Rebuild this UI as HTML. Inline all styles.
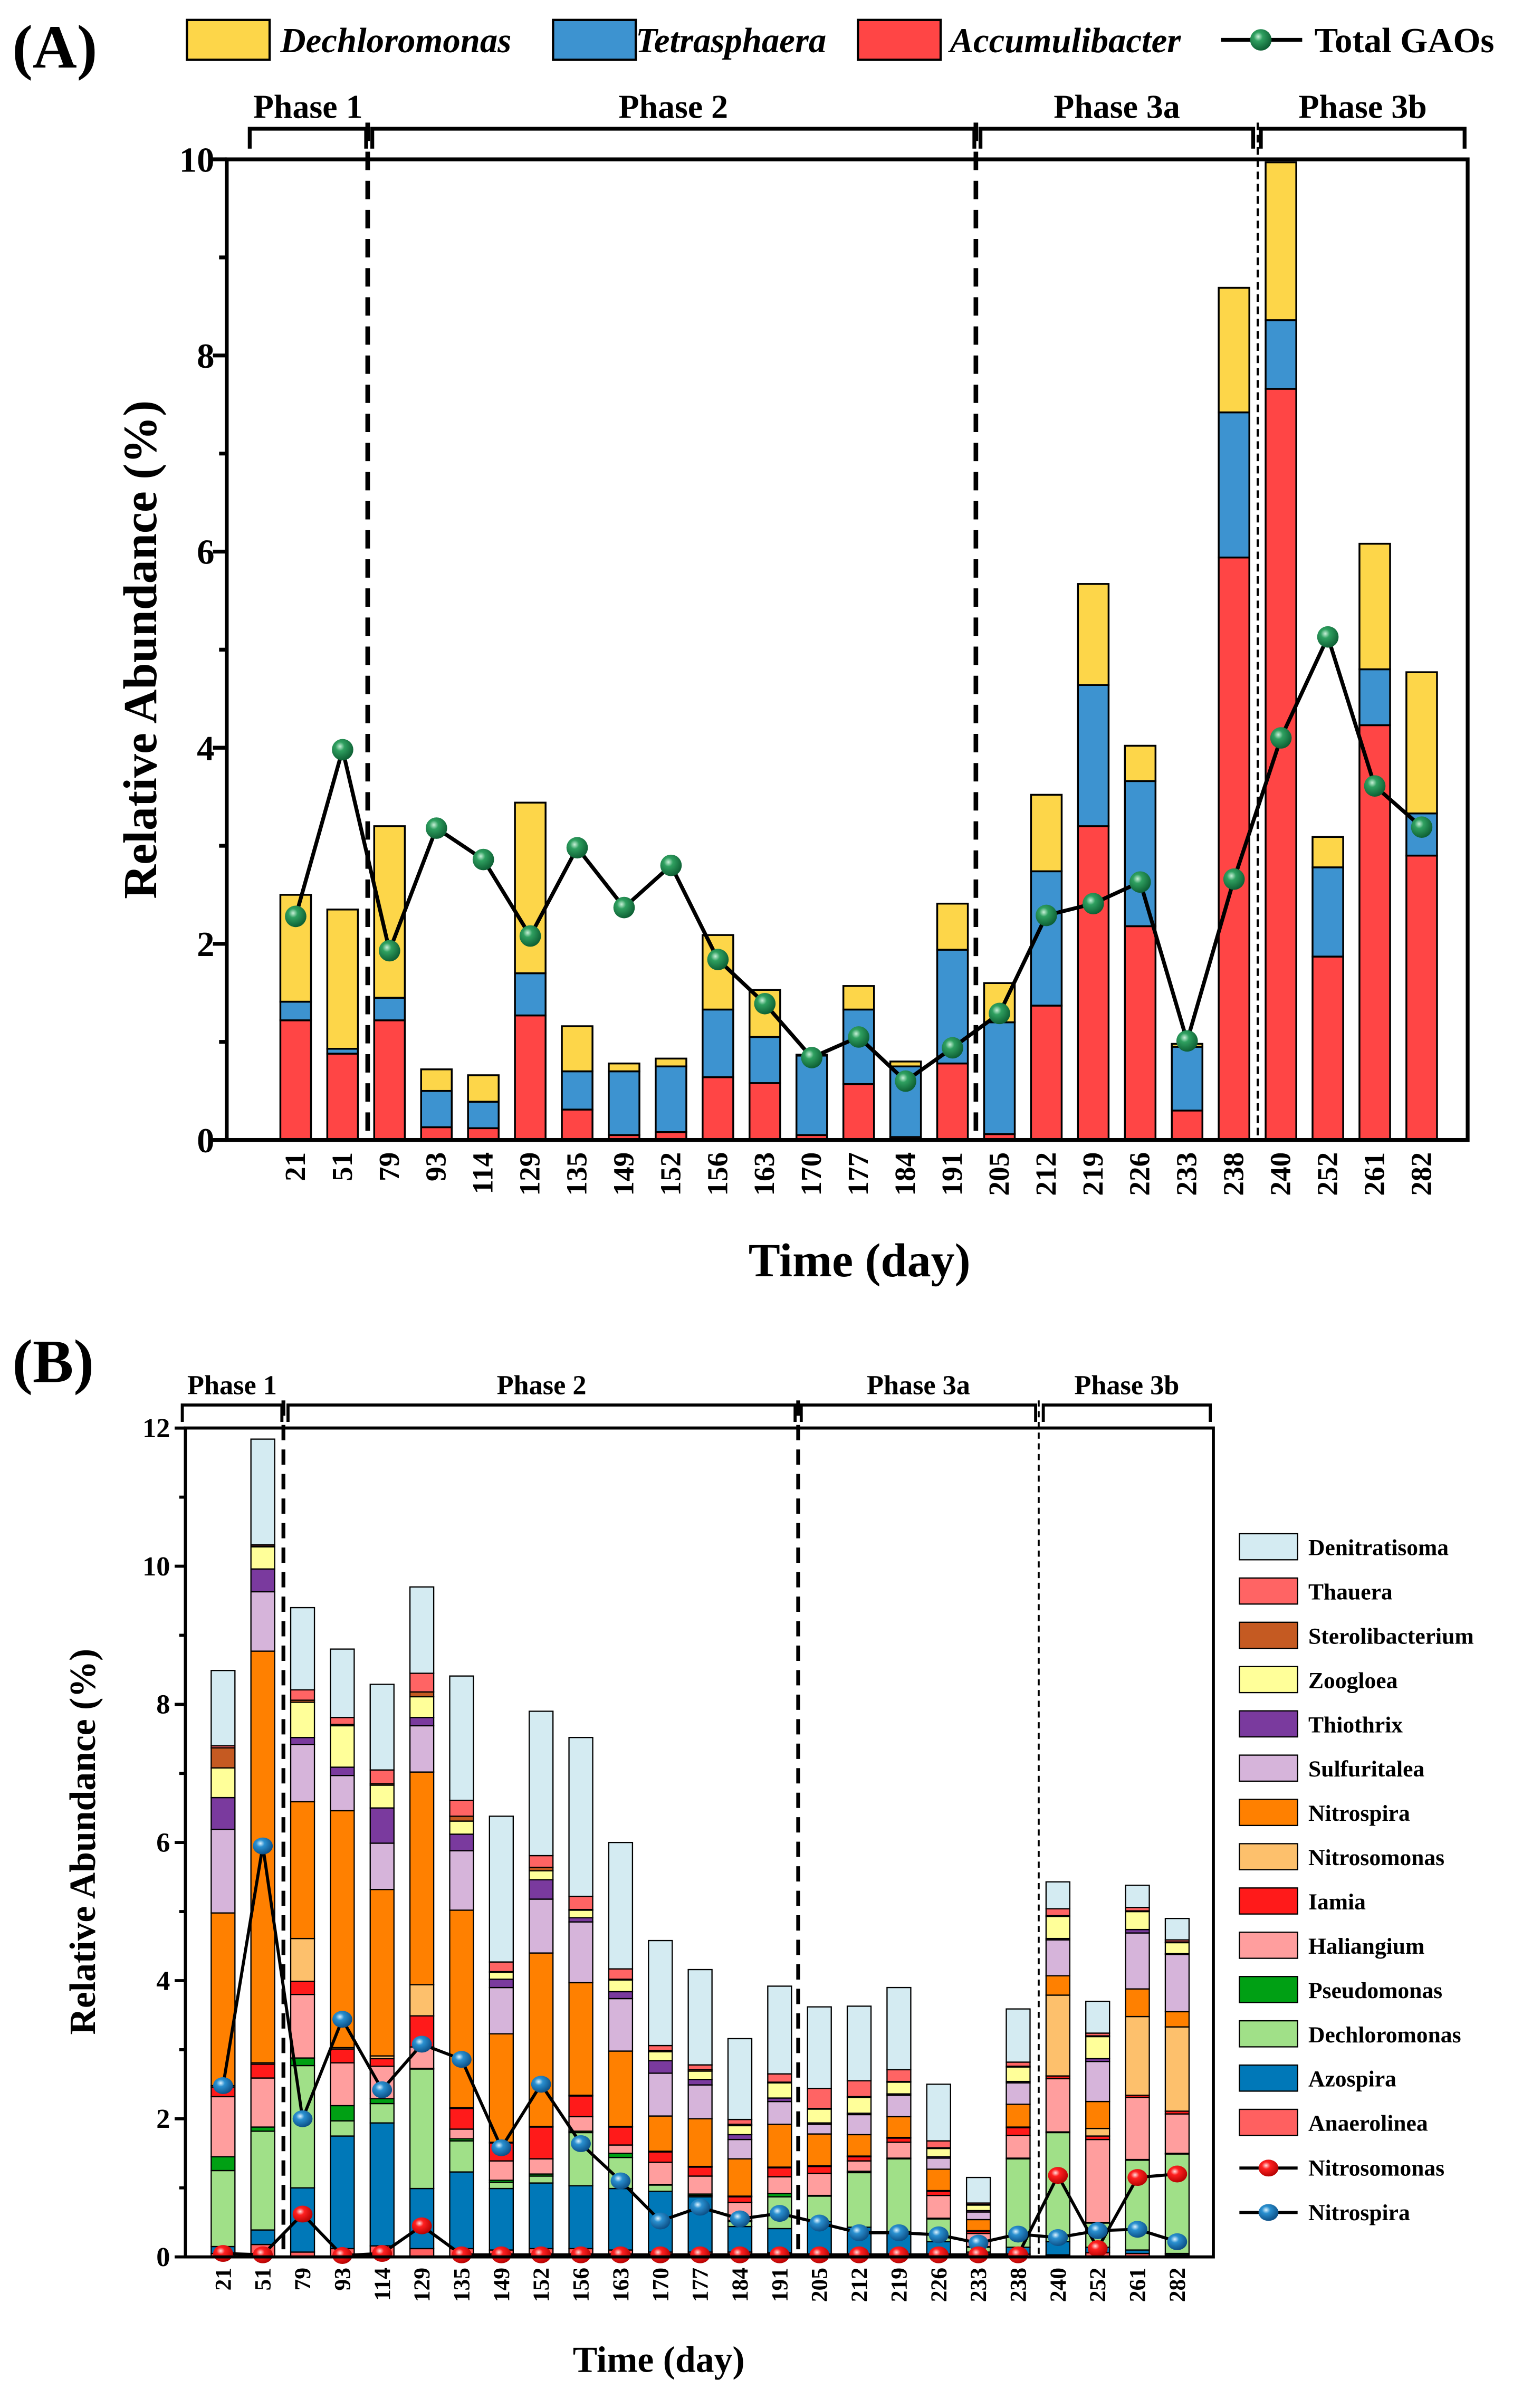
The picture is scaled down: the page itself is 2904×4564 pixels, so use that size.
<!DOCTYPE html>
<html><head><meta charset="utf-8"><style>
html,body{margin:0;padding:0;background:#fff;}
svg{display:block;font-family:"Liberation Serif",serif;font-weight:bold;}
</style></head><body>
<svg id="fig" xmlns="http://www.w3.org/2000/svg" width="2904" height="4564" viewBox="0 0 1000 1571.6">
<defs>
<radialGradient id="gG" cx="0.38" cy="0.35" r="0.7"><stop offset="0" stop-color="#c8f0d8"/><stop offset="0.3" stop-color="#2fa060"/><stop offset="1" stop-color="#0b5a30"/></radialGradient>
<radialGradient id="gR" cx="0.38" cy="0.35" r="0.7"><stop offset="0" stop-color="#ffe0e0"/><stop offset="0.3" stop-color="#ff2020"/><stop offset="1" stop-color="#b00000"/></radialGradient>
<radialGradient id="gB" cx="0.38" cy="0.35" r="0.7"><stop offset="0" stop-color="#e0f4ff"/><stop offset="0.3" stop-color="#2a90d0"/><stop offset="1" stop-color="#0a4a80"/></radialGradient>
</defs>
<rect width="1000" height="1571.6" fill="#fff"/>
<g id="A"></g>
<g id="B"></g>
</svg>
<script>
// ---------- Panel A data ----------
const daysA = [21,51,79,93,114,129,135,149,152,156,163,170,177,184,191,205,212,219,226,233,238,240,252,261,282];
const accumulibacter = [1.22,0.88,1.22,0.13,0.12,1.27,0.31,0.05,0.08,0.64,0.58,0.05,0.57,0.03,0.78,0.06,1.37,3.2,2.18,0.3,5.94,7.66,1.87,4.23,2.9];
const tetrasphaera = [0.19,0.05,0.23,0.37,0.27,0.43,0.39,0.65,0.67,0.69,0.47,0.81,0.76,0.72,1.16,1.14,1.37,1.44,1.48,0.65,1.48,0.7,0.91,0.57,0.43];
const dechloromonasA = [1.09,1.42,1.75,0.22,0.27,1.74,0.46,0.08,0.08,0.76,0.48,0.01,0.24,0.05,0.47,0.4,0.78,1.03,0.36,0.03,1.27,1.61,0.31,1.28,1.44];
const totalGAOs = [2.28,3.98,1.93,3.18,2.86,2.08,2.98,2.37,2.8,1.84,1.39,0.84,1.05,0.6,0.94,1.29,2.29,2.41,2.63,1.01,2.66,4.1,5.13,3.61,3.19];
const ticksA = [0,2,4,6,8,10];

// ---------- Panel B data ----------
const daysB = [21,51,79,93,114,129,135,149,152,156,163,170,177,184,191,205,212,219,226,233,238,240,252,261,282];
const genera = ["Anaerolinea","Azospira","Dechloromonas","Pseudomonas","Haliangium","Iamia","Nitrosomonas","Nitrospira","Sulfuritalea","Thiothrix","Zoogloea","Sterolibacterium","Thauera","Denitratisoma"];
const anaerolinea = [0.05,0.18,0.07,0.12,0.16,0.12,0.12,0.1,0.12,0.12,0.1,0.07,0.07,0.07,0.06,0.04,0.04,0.04,0.04,0.03,0.04,0.03,0.06,0.05,0.03];
const azospira = [0.1,0.21,0.93,1.63,1.78,0.87,1.11,0.89,0.95,0.91,0.89,0.88,0.8,0.37,0.35,0.47,0.39,0.33,0.18,0.04,0.1,0.19,0.08,0.05,0.02];
const dechloromonasB = [1.1,1.43,1.77,0.22,0.28,1.73,0.45,0.09,0.1,0.77,0.45,0.09,0.02,0.07,0.46,0.37,0.79,1.05,0.33,0.07,1.28,1.58,0.35,1.3,1.44];
const pseudomonas = [0.2,0.06,0.11,0.22,0.07,0.01,0.03,0.03,0.03,0.02,0.06,0.01,0.02,0.02,0.05,0.01,0.02,0.01,0.01,0.01,0.01,0.01,0.01,0.01,0.01];
const haliangium = [0.87,0.71,0.92,0.62,0.47,0.31,0.14,0.28,0.22,0.21,0.12,0.32,0.26,0.26,0.24,0.32,0.15,0.23,0.33,0.19,0.33,0.77,1.2,0.9,0.57];
const iamia = [0.14,0.2,0.19,0.2,0.11,0.45,0.3,0.26,0.46,0.3,0.26,0.15,0.13,0.08,0.13,0.1,0.06,0.06,0.06,0.03,0.11,0.04,0.05,0.03,0.04];
const nitrosomonasBar = [0.02,0.02,0.62,0.02,0.04,0.45,0.01,0.01,0.01,0.01,0.01,0.01,0.01,0.01,0.01,0.01,0.01,0.01,0.01,0.01,0.01,1.17,0.11,1.14,1.22];
const nitrospiraBar = [2.5,5.96,1.98,3.43,2.41,3.08,2.86,1.57,2.51,1.63,1.09,0.51,0.69,0.54,0.62,0.46,0.31,0.3,0.31,0.16,0.33,0.28,0.39,0.4,0.22];
const sulfuritalea = [1.21,0.86,0.83,0.51,0.67,0.67,0.86,0.67,0.78,0.88,0.76,0.62,0.49,0.28,0.33,0.14,0.29,0.31,0.16,0.11,0.31,0.52,0.58,0.81,0.83];
const thiothrix = [0.46,0.33,0.1,0.12,0.51,0.12,0.24,0.12,0.28,0.06,0.1,0.18,0.08,0.07,0.05,0.02,0.02,0.02,0.02,0.02,0.02,0.02,0.04,0.05,0.01];
const zoogloea = [0.43,0.32,0.51,0.6,0.33,0.3,0.19,0.1,0.13,0.11,0.17,0.13,0.12,0.13,0.22,0.2,0.23,0.17,0.12,0.08,0.21,0.32,0.32,0.26,0.16];
const sterolibacterium = [0.29,0.01,0.03,0.02,0.02,0.07,0.07,0.01,0.05,0.01,0.01,0.02,0.02,0.02,0.01,0.01,0.01,0.01,0.01,0.01,0.01,0.01,0.01,0.01,0.01];
const thauera = [0.03,0.02,0.15,0.1,0.2,0.27,0.23,0.14,0.17,0.19,0.15,0.07,0.07,0.07,0.12,0.29,0.23,0.17,0.1,0.02,0.06,0.1,0.04,0.05,0.03];
const denitratisoma = [1.09,1.53,1.19,0.99,1.24,1.25,1.8,2.11,2.09,2.3,1.83,1.52,1.38,1.17,1.27,1.18,1.08,1.19,0.82,0.37,0.77,0.39,0.46,0.32,0.31];
const nitrosomonasLine = [0.05,0.03,0.62,0.02,0.05,0.45,0.03,0.03,0.03,0.03,0.03,0.03,0.03,0.03,0.03,0.03,0.03,0.03,0.03,0.03,0.03,1.18,0.12,1.15,1.2];
const nitrospiraLine = [2.48,5.95,2.0,3.44,2.42,3.08,2.86,1.58,2.5,1.64,1.1,0.52,0.72,0.55,0.63,0.49,0.35,0.35,0.32,0.2,0.33,0.28,0.38,0.4,0.22];
const ticksB = [0,2,4,6,8,10,12];

const NS = "http://www.w3.org/2000/svg";
function mk(parent, tag, attrs, text){
  const e = document.createElementNS(NS, tag);
  for (const k in attrs) e.setAttribute(k, attrs[k]);
  if (text !== undefined) e.textContent = text;
  parent.appendChild(e);
  return e;
}

// ================= PANEL A =================
const A = document.getElementById('A');
const aL=148,aR=958,aT=104,aB=744;
const yA = v => aB - v*64;
const xA = i => 193 + i*30.625;
const bwA = 20;

let t = mk(A,'text',{x:8,y:44,'font-size':40},'(A)');



// legend A
const legA = [["Dechloromonas","#FDD649",122,183],["Tetrasphaera","#3D93D0",361,415],["Accumulibacter","#FF4545",560,620]];
legA.forEach(l=>{
  let r = mk(A,'rect',{x:l[2],y:13,width:54,height:26,fill:l[1],stroke:'#000','stroke-width':1.5});
  
  
  let tx = mk(A,'text',{x:l[3],y:34,'font-size':23,'font-style':'italic'},l[0]);
  
  
});
mk(A,'line',{x1:797,y1:26,x2:850,y2:26,stroke:'#000','stroke-width':2.5});
let lb = mk(A,'circle',{cx:823,cy:26,r:7,fill:'url(#gG)'});


let lt = mk(A,'text',{x:858,y:34,'font-size':23},'Total GAOs');



// phases A
const phA = [["Phase 1",163,239],["Phase 2",243,636],["Phase 3a",640,818],["Phase 3b",823,956]];
phA.forEach(p=>{
  let pt = mk(A,'text',{x:(p[1]+p[2])/2,y:77,'font-size':22,'text-anchor':'middle'},p[0]);
  
  
  let pb = mk(A,'path',{d:`M${p[1]},97 V84 H${p[2]} V97`,fill:'none',stroke:'#000','stroke-width':2.5});
  
  
});

// bars A
daysA.forEach((d,i)=>{
  const segs = [[accumulibacter[i],'#FF4545','accumulibacter'],[tetrasphaera[i],'#3D93D0','tetrasphaera'],[dechloromonasA[i],'#FDD649','dechloromonas']];
  let cum=0;
  segs.forEach(s=>{
    const r = mk(A,'rect',{x:xA(i)-bwA/2,y:yA(cum+s[0]),width:bwA,height:s[0]*64,fill:s[1],stroke:'#000','stroke-width':1.2});
    
    
    cum+=s[0];
  });
  const lbl = mk(A,'text',{transform:`translate(${xA(i)+6},752) rotate(-90)`,'font-size':19,'text-anchor':'end'},d);
  
  
});

// dashed lines A
[[240,80,3,'12,7'],[637,80,3,'12,7'],[821,80,1.5,'5,3']].forEach(l=>{
  const dl = mk(A,'line',{x1:l[0],y1:l[1],x2:l[0],y2:aB,stroke:'#000','stroke-width':l[2],'stroke-dasharray':l[3]});
  
  
});

// GAO line
let ptsA = totalGAOs.map((v,i)=>xA(i)+','+yA(v)).join(' ');
let gl = mk(A,'polyline',{points:ptsA,fill:'none',stroke:'#000','stroke-width':2.5});


totalGAOs.forEach((v,i)=>{
  const c = mk(A,'circle',{cx:xA(i),cy:yA(v),r:7,fill:'url(#gG)'});
  
  
});

// frame A
let fa = mk(A,'rect',{x:aL,y:aT,width:aR-aL,height:aB-aT,fill:'none',stroke:'#000','stroke-width':2.5});


for(let v=0; v<=10; v++){
  mk(A,'line',{x1:aL,y1:yA(v),x2:aL-(v%2?5:9),y2:yA(v),stroke:'#000','stroke-width':2.5});
}
ticksA.forEach(v=>{
  const tl = mk(A,'text',{x:140,y:yA(v)+8,'font-size':23,'text-anchor':'end'},v);
  
  
});
let yta = mk(A,'text',{transform:'translate(102,424) rotate(-90)','font-size':31,'text-anchor':'middle'},'Relative Abundance (%)');


let xta = mk(A,'text',{x:561,y:833,'font-size':31,'text-anchor':'middle'},'Time (day)');



// ================= PANEL B =================
const B = document.getElementById('B');
const bL=121,bR=792,bT=932,bBot=1473;
const yB = v => bBot - v*45.08;
const xB = i => 145.6 + i*25.95;
const bwB = 15.5;

t = mk(B,'text',{x:8,y:902,'font-size':40},'(B)');



const phB = [["Phase 1",119,184],["Phase 2",188,519],["Phase 3a",523,676],["Phase 3b",681,790]];
phB.forEach(p=>{
  let pt = mk(B,'text',{x:(p[1]+p[2])/2,y:910,'font-size':18,'text-anchor':'middle'},p[0]);
  
  
  let pb = mk(B,'path',{d:`M${p[1]},928 V917 H${p[2]} V928`,fill:'none',stroke:'#000','stroke-width':2});
  
  
});

const seriesB = [anaerolinea,azospira,dechloromonasB,pseudomonas,haliangium,iamia,nitrosomonasBar,nitrospiraBar,sulfuritalea,thiothrix,zoogloea,sterolibacterium,thauera,denitratisoma];
const colB = ['#FF6060','#0078B8','#A0E088','#00A014','#FF9E9E','#FF1A1A','#FDC06C','#FF8000','#D6B4DA','#7A3A9E','#FFFF99','#C55A22','#FF6464','#D4EBF2'];
daysB.forEach((d,i)=>{
  let cum=0;
  seriesB.forEach((s,k)=>{
    const r = mk(B,'rect',{x:xB(i)-bwB/2,y:yB(cum+s[i]),width:bwB,height:s[i]*45.08,fill:colB[k],stroke:'#000','stroke-width':0.8});
    
    
    cum+=s[i];
  });
  const lbl = mk(B,'text',{transform:`translate(${xB(i)+5},1480) rotate(-90)`,'font-size':15,'text-anchor':'end'},d);
  
  
});

[[185,914,2.5,'10,6'],[521,914,2.5,'10,6'],[678,914,1.3,'4,3']].forEach(l=>{
  const dl = mk(B,'line',{x1:l[0],y1:l[1],x2:l[0],y2:bBot,stroke:'#000','stroke-width':l[2],'stroke-dasharray':l[3]});
  
  
});

let nl = mk(B,'polyline',{points:nitrospiraLine.map((v,i)=>xB(i)+','+yB(v)).join(' '),fill:'none',stroke:'#000','stroke-width':2});


let ml = mk(B,'polyline',{points:nitrosomonasLine.map((v,i)=>xB(i)+','+yB(v)).join(' '),fill:'none',stroke:'#000','stroke-width':2});


nitrospiraLine.forEach((v,i)=>{
  const c = mk(B,'ellipse',{cx:xB(i),cy:yB(v),rx:6.5,ry:5.5,fill:'url(#gB)'});
  
  
});
nitrosomonasLine.forEach((v,i)=>{
  const c = mk(B,'ellipse',{cx:xB(i),cy:yB(v),rx:6.5,ry:5.5,fill:'url(#gR)'});
  
  
});

let fb = mk(B,'rect',{x:bL,y:bT,width:bR-bL,height:bBot-bT,fill:'none',stroke:'#000','stroke-width':2});


for(let v=0; v<=12; v++){
  mk(B,'line',{x1:bL,y1:yB(v),x2:bL-(v%2?4:7),y2:yB(v),stroke:'#000','stroke-width':2});
}
ticksB.forEach(v=>{
  const tl = mk(B,'text',{x:111,y:yB(v)+6,'font-size':18,'text-anchor':'end'},v);
  
  
});
let ytb = mk(B,'text',{transform:'translate(62,1202) rotate(-90)','font-size':24,'text-anchor':'middle'},'Relative Abundance (%)');


let xtb = mk(B,'text',{x:430,y:1548,'font-size':24,'text-anchor':'middle'},'Time (day)');



// legend B (top = Denitratisoma)
for(let k=genera.length-1, row=0; k>=0; k--, row++){
  const y = 1001 + row*28.9;
  const r = mk(B,'rect',{x:809,y:y,width:38,height:17,fill:colB[k],stroke:'#000','stroke-width':0.8});
  
  
  const tx = mk(B,'text',{x:854,y:y+14,'font-size':15},genera[k]);
  
  
}
[["Nitrosomonas",'url(#gR)',1415],["Nitrospira",'url(#gB)',1444]].forEach(l=>{
  mk(B,'line',{x1:809,y1:l[2],x2:847,y2:l[2],stroke:'#000','stroke-width':2});
  const c = mk(B,'ellipse',{cx:828,cy:l[2],rx:6.5,ry:5.5,fill:l[1]});
  
  
  const tx = mk(B,'text',{x:854,y:l[2]+5,'font-size':15},l[0]);
  
  
});
</script>
</body></html>
